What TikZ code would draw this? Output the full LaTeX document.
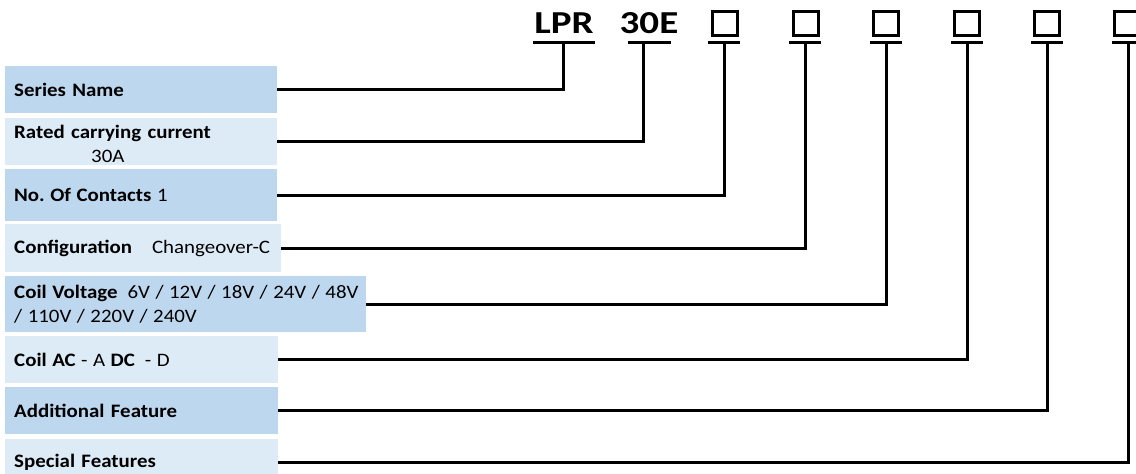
\documentclass[tikz,border=0pt]{standalone}
\usepackage{fontspec}
\setmainfont[FakeStretch=1.1]{Carlito}
\newfontfamily\codefont[FakeStretch=1.22]{Carlito}
\definecolor{dblue}{HTML}{BDD7EE}
\definecolor{lblue}{HTML}{DDEBF7}
\newcommand\tsp{\spaceskip=5.5pt\relax\xspaceskip=5.5pt\relax}
\tikzset{
  lbl/.style={anchor=north west, inner xsep=9pt, inner ysep=0pt, align=left,
    font=\fontsize{19}{24}\selectfont, text=black},
  dbox/.style={lbl, fill=dblue},
  lbox/.style={lbl, fill=lblue},
  conn/.style={line width=3pt},
  code/.style={font=\codefont\fontsize{32}{32}\selectfont\bfseries, inner sep=0pt, anchor=base},
  sq/.style={draw, line width=2.6pt, minimum width=25pt, minimum height=24pt, inner sep=0pt, anchor=south},
}
\begin{document}
\frenchspacing
\begin{tikzpicture}[x=1pt,y=-1pt]
\clip (0,0) rectangle (1136,474);
\fill[white] (0,0) rectangle (1136,474);
% label boxes
\node[dbox, text width=254pt, minimum height=47pt] (sn) at (5,66) {\textbf{Series Name}};
\node[lbox, text width=254pt, minimum height=47pt] (rc) at (5,118) {\rule{0pt}{18pt}\textbf{Rated carrying current}\\\hspace*{77pt}30A};
\node[dbox, text width=254pt, minimum height=52pt] (nc) at (5,169) {\tsp\textbf{No. Of Contacts} 1};
\node[lbox, text width=258pt, minimum height=48pt] (cf) at (5,224) {\textbf{Configuration}\hspace{20pt}Changeover-C};
\node[dbox, text width=343pt, minimum height=56pt] (cv) at (5,276) {\tsp\mbox{\textbf{Coil Voltage}\hspace{10pt}6V / 12V / 18V / 24V / 48V}\\\mbox{/ 110V / 220V / 240V}};
\node[lbox, text width=255pt, minimum height=47pt] (ca) at (5,336) {\tsp\textbf{Coil AC} - A \textbf{DC}\hspace{10pt}- D};
\node[dbox, text width=255pt, minimum height=47pt] (af) at (5,387) {\textbf{Additional Feature}};
\node[lbox, text width=255pt, minimum height=47pt] (sf) at (5,439) {\textbf{Special Features}};
% code header
\node[code] (lpr) at (564,33) {LPR};
\node[code] (c30) at (649,33) {30E};
\node[sq] (s1) at (725,37) {};
\node[sq] (s2) at (806,37) {};
\node[sq] (s3) at (886,37) {};
\node[sq] (s4) at (967,37) {};
\node[sq] (s5) at (1047,37) {};
\node[sq] (s6) at (1127,37) {};
% underline junctions
\coordinate (j1) at (563,42);
\coordinate (j2) at (643,42);
\coordinate (j3) at (724,42);
\coordinate (j4) at (805,42);
\coordinate (j5) at (886,42);
\coordinate (j6) at (967,42);
\coordinate (j7) at (1047,42);
\coordinate (j8) at (1128,42);
\draw[conn] (533,42) -- (595,42);
\draw[conn] (628,42) -- (671,42);
\foreach \j in {j3,j4,j5,j6,j7,j8} \draw[conn] ([xshift=-16pt]\j) -- ([xshift=16pt]\j);
% connectors
\draw[conn] (sn.east) -| (j1);
\draw[conn] (rc.east) -| (j2);
\draw[conn] (nc.east) -| (j3);
\draw[conn] (cf.east) -| (j4);
\draw[conn] (cv.east) -| (j5);
\draw[conn] (ca.east) -| (j6);
\draw[conn] (af.east) -| (j7);
\draw[conn] (sf.east) -| (j8);
\end{tikzpicture}
\end{document}
